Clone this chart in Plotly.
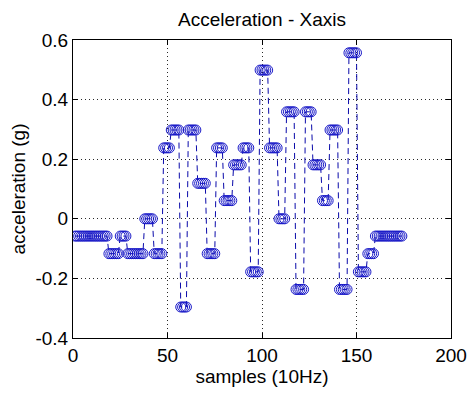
import plotly.graph_objects as go

# Step-wise acceleration signal: value held for a run of samples
seg_values = [-0.058, -0.117, -0.058, -0.117, 0.0, -0.117, 0.238, 0.298, -0.296, 0.298,
              0.119, -0.117, 0.238, 0.061, 0.181, 0.238, -0.178, 0.499, 0.238, 0.0,
              0.359, -0.237, 0.359, 0.181, 0.061, 0.298, -0.237, 0.557, -0.178, -0.117,
              -0.058]
seg_lengths = [18, 6, 4, 9, 5, 5, 4, 5, 4, 5,
               5, 5, 4, 5, 5, 4, 5, 5, 5, 4,
               5, 5, 4, 5, 4, 5, 5, 5, 5, 4,
               15]

y_vals = []
for v, n in zip(seg_values, seg_lengths):
    y_vals.extend([v] * n)
x_vals = list(range(1, len(y_vals) + 1))

x_ticks = [0, 50, 100, 150, 200]
y_ticks = [-0.4, -0.2, 0, 0.2, 0.4, 0.6]
y_tick_text = ["-0.4", "-0.2", "0", "0.2", "0.4", "0.6"]

blue = "rgb(25,25,200)"
fig = go.Figure()
fig.add_trace(go.Scatter(
    x=x_vals, y=y_vals, mode="lines+markers",
    line=dict(color="rgb(10,10,170)", width=1, dash="6px,4px"),
    marker=dict(symbol="circle-open", size=10, color=blue, line=dict(width=1, color=blue)),
    showlegend=False,
))

FAM = "Liberation Sans, Arial, sans-serif"
font = dict(family=FAM, size=19, color="black")
axis_common = dict(
    showline=True, linecolor="black", linewidth=1, mirror="allticks",
    ticks="inside", ticklen=5, tickcolor="black",
    showgrid=True, gridcolor="rgb(40,40,40)", griddash="1px,3px", gridwidth=1,
    zeroline=False, tickfont=font, automargin=False,
)
fig.update_xaxes(range=[0, 200], tickvals=x_ticks, **axis_common,
                 title=dict(text="samples (10Hz)", font=font, standoff=4))
fig.update_yaxes(range=[-0.4, 0.6], tickvals=y_ticks, ticktext=y_tick_text, **axis_common,
                 title=dict(text="acceleration (g)", font=font, standoff=4))
fig.update_layout(
    width=469, height=398,
    margin=dict(l=73, r=18, t=40, b=60),
    paper_bgcolor="white", plot_bgcolor="white",
    title=dict(text="Acceleration - Xaxis", font=dict(family=FAM, size=19, color="black"),
               x=(73 + 451) / 2 / 469, xanchor="center",
               y=1 - 19 / 398, yanchor="middle"),
)
fig.write_html("out.html")
